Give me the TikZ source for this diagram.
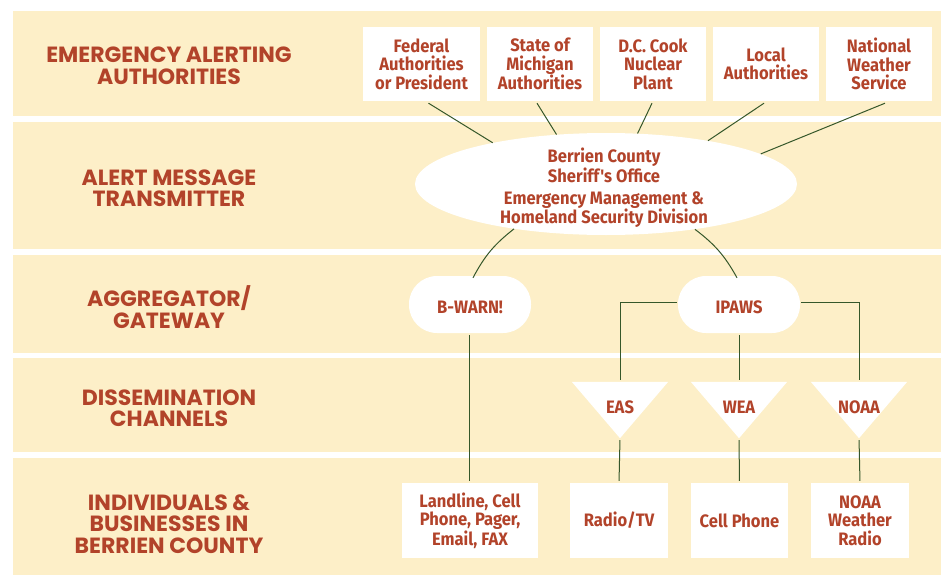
\documentclass[tikz,border=0pt]{standalone}
\usepackage{fontspec}
\setmainfont{Fira Sans}
\newfontfamily\labfont{Poppins}
\newfontfamily\boxfont[FakeStretch=0.92]{Fira Sans}
\usetikzlibrary{shapes.geometric,calc}
\definecolor{band}{HTML}{FDEFC8}
\definecolor{txt}{HTML}{B2432A}
\definecolor{lnc}{HTML}{35572A}
\begin{document}
\begin{tikzpicture}[x=1pt,y=-1pt,
  lab/.style={font=\labfont\bfseries\fontsize{22}{21.5}\selectfont, text=txt, align=center},
  boxtxt/.style={font=\boxfont\bfseries\fontsize{18}{18.5}\selectfont, text=txt, align=center},
  topbox/.style={boxtxt, fill=white, inner sep=0pt, minimum width=#1, minimum height=74},
  botbox/.style={boxtxt, fill=white, inner sep=0pt, minimum width=#1, minimum height=75},
  pill/.style={boxtxt, fill=white, inner sep=0pt, minimum width=122, minimum height=57, rounded corners=28},
  tri/.style={boxtxt, inner sep=0pt, minimum width=96, minimum height=56},
  conn/.style={draw=lnc, line width=1pt},
]
\useasboundingbox (0,0) rectangle (941,575);
% bands
\fill[band] (13,11) rectangle (941,116);
\fill[band] (13,122) rectangle (941,249);
\fill[band] (13,255) rectangle (941,353);
\fill[band] (13,358) rectangle (941,452);
\fill[band] (13,458) rectangle (941,575);
% row labels
\node[lab] (l1) at (169,66) {EMERGENCY ALERTING\\AUTHORITIES};
\node[lab] (l2) at (169,188) {ALERT MESSAGE\\TRANSMITTER};
\node[lab] (l3) at (169,307) {AGGREGATOR/\\GATEWAY};
\node[lab] (l4) at (169,408) {DISSEMINATION\\CHANNELS};
\node[lab] (l5) at (169,524) {INDIVIDUALS \&\\BUSINESSES IN\\BERRIEN COUNTY};
% authorities
\node[topbox=117] (fed) at (421.5,64) {Federal\\Authorities\\or President};
\node[topbox=106] (mi) at (540,64) {State of\\Michigan\\Authorities};
\node[topbox=106] (dc) at (653,64) {D.C. Cook\\Nuclear\\Plant};
\node[topbox=106] (loc) at (766,64) {Local\\Authorities};
\node[topbox=106] (nws) at (879,64) {National\\Weather\\Service};
% transmitter
\node[ellipse, fill=white, inner sep=0pt, minimum width=382, minimum height=102] (ell) at (606,184) {};
\node[boxtxt] (elltxt) at (604,188) {Berrien County\\Sheriff's Office\\[3pt]Emergency Management \&\\Homeland Security Division};
\draw[conn] ([xshift=7pt,yshift=-2pt]fed.south) -- (ell.160.2);
\draw[conn] ([xshift=-3pt,yshift=-2pt]mi.south) -- (ell.135);
\draw[conn] ([xshift=-1pt,yshift=-2pt]dc.south) -- (ell.58);
\draw[conn] ([xshift=-2pt,yshift=-2pt]loc.south) -- (ell.23.3);
\draw[conn] ([xshift=6pt,yshift=-2pt]nws.south) -- (ell.11.3);
% aggregators
\node[pill] (bwarn) at (470,304.5) {};
\node[pill] (ipaws) at (739,304.5) {};
\node[boxtxt] (bwarntxt) at ([yshift=-3pt]bwarn.center) {B-WARN!};
\node[boxtxt] (ipawstxt) at ([yshift=-3pt]ipaws.center) {IPAWS};
\draw[conn] (ell.206.1) to[bend right=12] ([xshift=3pt,yshift=-2pt]bwarn.north);
\draw[conn] (ell.333.9) to[bend left=12] ([xshift=-2pt,yshift=-2pt]ipaws.north);
% channels
\node[tri] (eas) at (620,410) {};
\node[tri] (wea) at (739,410) {};
\node[tri] (noaa) at (859,410) {};
\foreach \t in {eas,wea,noaa}
  \fill[white] (\t.north west) -- (\t.north east) -- (\t.south) -- cycle;
\node[boxtxt] (eastxt) at ([yshift=3pt]eas.center) {EAS};
\node[boxtxt] (weatxt) at ([yshift=3pt]wea.center) {WEA};
\node[boxtxt] (noaatxt) at ([yshift=3pt]noaa.center) {NOAA};
\draw[conn, shorten <=1pt, shorten >=2pt] ([yshift=2.5pt]ipaws.west) -| (eas.north);
\draw[conn, shorten <=1pt, shorten >=2pt] ([yshift=2.5pt]ipaws.east) -| (noaa.north);
\draw[conn, shorten <=2pt, shorten >=2pt] (ipaws.south) -- (wea.north);
% individuals
\node[botbox=136] (land) at (470,520.5) {Landline, Cell\\Phone, Pager,\\Email, FAX};
\node[botbox=98] (radio) at (619,520.5) {Radio/TV};
\node[botbox=97] (cell) at (739.5,520.5) {Cell Phone};
\node[botbox=98] (nwr) at (860,520.5) {NOAA\\Weather\\Radio};
\draw[conn, shorten <=2pt, shorten >=2pt] ([xshift=-1pt]bwarn.south) -- ([xshift=-1pt]land.north);
\draw[conn, shorten <=2pt, shorten >=2pt] (eas.south) -- (radio.north);
\draw[conn, shorten <=2pt, shorten >=2pt] (wea.south) -- (cell.north);
\draw[conn, shorten <=2pt, shorten >=2pt] (noaa.south) -- (nwr.north);
\end{tikzpicture}
\end{document}
